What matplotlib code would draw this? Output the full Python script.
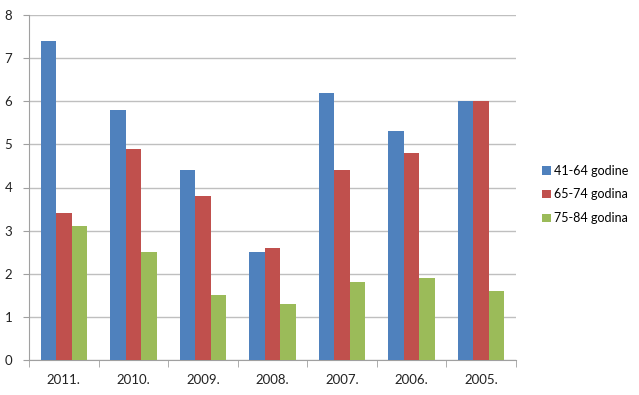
import numpy as np
import matplotlib.pyplot as plt

plt.rcParams['font.family'] = ['Lato', 'DejaVu Sans']

years = ['2011.', '2010.', '2009.', '2008.', '2007.', '2006.', '2005.']
g41_64 = [7.4, 5.8, 4.4, 2.5, 6.2, 5.3, 6.0]
g65_74 = [3.4, 4.9, 3.8, 2.6, 4.4, 4.8, 6.0]
g75_84 = [3.1, 2.5, 1.5, 1.3, 1.8, 1.9, 1.6]
labels = ['41-64 godine', '65-74 godina', '75-84 godina']
colors = ['#4F81BD', '#C0504D', '#9BBB59']

fig = plt.figure(figsize=(6.39, 3.95), dpi=100)
ax = fig.add_axes([29/639, 1-360/395, (516-29)/639, (360-15)/395])

x = np.arange(len(years))
w = 0.223
for i, (vals, lab, c) in enumerate(zip([g41_64, g65_74, g75_84], labels, colors)):
    ax.bar(x + (i-1)*w, vals, w, color=c, label=lab, zorder=3)

ax.set_xlim(-0.5, len(years)-0.5)
ax.set_ylim(0, 8)
ax.set_yticks(range(9))
ax.yaxis.grid(True, color='#BFBFBF', linewidth=1, zorder=0)
ax.set_xticks(x)
ax.set_xticklabels(years)
ax.set_xticks(np.arange(-0.5, len(years)), minor=True)
ax.tick_params(axis='x', which='major', length=0, pad=10, labelsize=9.5, colors='#222222')
ax.tick_params(axis='x', which='minor', length=5, color='#A0A0A0')
ax.tick_params(axis='y', length=4, color='#A0A0A0', labelsize=9.5, pad=8, labelcolor='#222222')
for s in ['top', 'right']:
    ax.spines[s].set_visible(False)
for s in ['left', 'bottom']:
    ax.spines[s].set_color('#A0A0A0')

ax.legend(loc='center left', bbox_to_anchor=(1.03, 0.48), frameon=False,
          fontsize=9, handlelength=0.7, handleheight=0.7, handletextpad=0.3,
          labelspacing=0.95)

fig.savefig('out.png', dpi=100)
